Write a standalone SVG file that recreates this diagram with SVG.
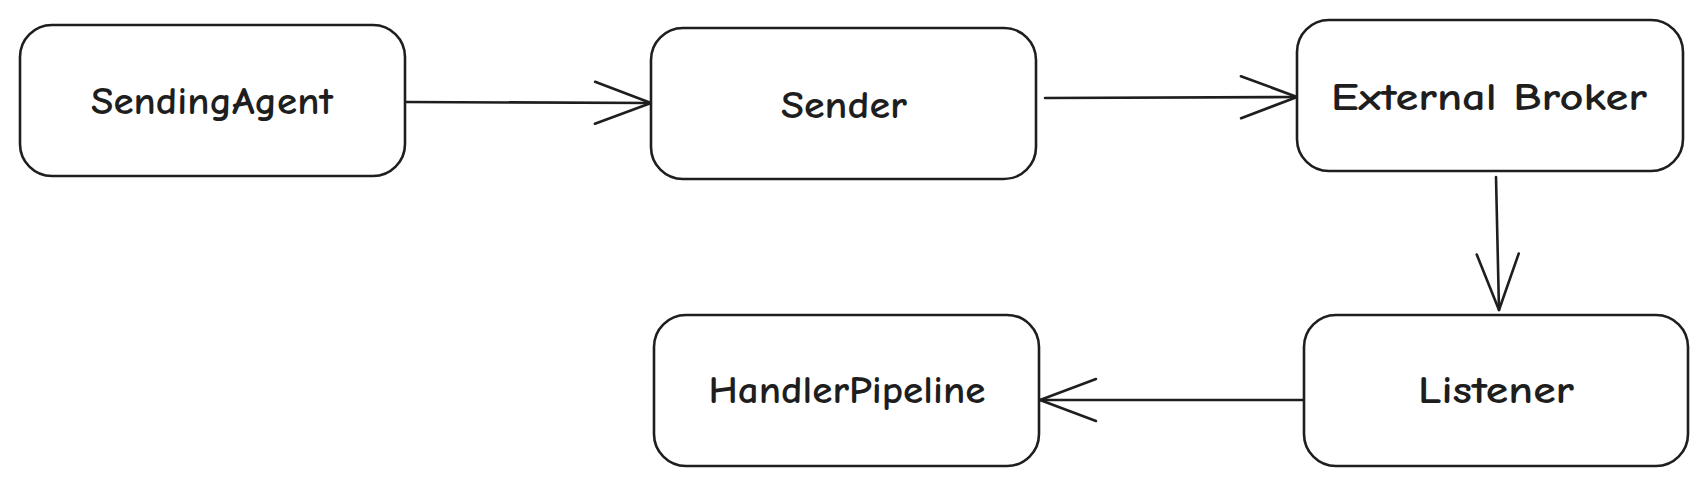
<svg xmlns="http://www.w3.org/2000/svg" width="1708" height="486" viewBox="0 0 1708 486">
<defs>
<style>
.box{fill:#ffffff;stroke:#1e1e1e;stroke-width:2.6}
.lbl{font-family:"Comic Neue","Liberation Sans",sans-serif;font-size:39px;font-weight:bold;fill:#1e1e1e;text-anchor:middle;dominant-baseline:central}
.edge{fill:none;stroke:#1e1e1e;stroke-width:2.6;stroke-linecap:round}
</style>
<marker id="arr" markerUnits="userSpaceOnUse" viewBox="-60 -25 64 50" refX="0" refY="0" markerWidth="64" markerHeight="50" orient="auto">
<path d="M-56,-21 L0,0 L-56,21" fill="none" stroke="#1e1e1e" stroke-width="2.6" stroke-linecap="round" stroke-linejoin="round"/>
</marker>
</defs>
<rect width="1708" height="486" fill="#ffffff"/>
<g id="connectors">
<path class="edge" d="M405,102 L651,103" marker-end="url(#arr)"/>
<path class="edge" d="M1045,98 L1297,97" marker-end="url(#arr)"/>
<path class="edge" d="M1496,177 L1499,310" marker-end="url(#arr)"/>
<path class="edge" d="M1304,400 L1040,400" marker-end="url(#arr)"/>
</g>
<g id="node-sendingagent">
<rect class="box" x="20" y="25" width="385" height="151" rx="32"/>
<text class="lbl" x="212" y="101" textLength="242" lengthAdjust="spacingAndGlyphs">SendingAgent</text>
</g>
<g id="node-sender">
<rect class="box" x="651" y="28" width="385" height="151" rx="32"/>
<text class="lbl" x="844" y="105" textLength="126" lengthAdjust="spacingAndGlyphs">Sender</text>
</g>
<g id="node-external-broker">
<rect class="box" x="1297" y="20" width="386" height="151" rx="32"/>
<text class="lbl" x="1489" y="97" textLength="316" lengthAdjust="spacingAndGlyphs">External Broker</text>
</g>
<g id="node-listener">
<rect class="box" x="1304" y="315" width="384" height="151" rx="32"/>
<text class="lbl" x="1496" y="390" textLength="156" lengthAdjust="spacingAndGlyphs">Listener</text>
</g>
<g id="node-handlerpipeline">
<rect class="box" x="654" y="315" width="385" height="151" rx="32"/>
<text class="lbl" x="847" y="390" textLength="277" lengthAdjust="spacingAndGlyphs">HandlerPipeline</text>
</g>
</svg>
